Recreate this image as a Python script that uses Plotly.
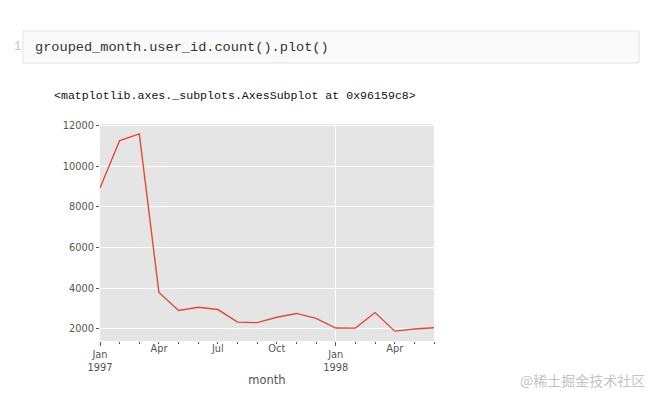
import plotly.graph_objects as go

months = ["1997-01", "1997-02", "1997-03", "1997-04", "1997-05", "1997-06",
          "1997-07", "1997-08", "1997-09", "1997-10", "1997-11", "1997-12",
          "1998-01", "1998-02", "1998-03", "1998-04", "1998-05", "1998-06"]
counts = [8928, 11272, 11598, 3781, 2895, 3054, 2942, 2320, 2296, 2562,
          2750, 2504, 2032, 2026, 2793, 1878, 1985, 2043]
major_ticks = ["Jan<br>1997", "Jan<br>1998"]
minor_labels = ["Apr", "Jul", "Oct", "Apr"]
y_ticks = [2000, 4000, 6000, 8000, 10000, 12000]

x_idx = list(range(len(months)))
major_pos = [i for i, m in enumerate(months) if m.endswith("-01")]
minor_pos = [i for i, m in enumerate(months) if m[-2:] in ("04", "07", "10")]

# page body has an 8px default margin; work in screen pixels and shift
OFF = 8
W, H = 658 - OFF, 401 - OFF
L, R, T, B = 100 - OFF, 434 - OFF, 124 - OFF, 341 - OFF


def px_x(x):
    return (x - OFF - L) / (R - L)


def px_y(y):
    return (B - (y - OFF)) / (B - T)


fig = go.Figure()
fig.add_trace(go.Scatter(x=x_idx, y=counts, mode="lines",
                         line=dict(color="#E24A33", width=1.4),
                         showlegend=False, hoverinfo="skip"))
fig.add_trace(go.Scatter(x=[0, 17], y=[None, None], xaxis="x2",
                         showlegend=False, hoverinfo="skip"))

tickfont = dict(family="DejaVu Sans", size=9.8, color="#555555")
fig.update_layout(
    width=W, height=H,
    margin=dict(l=L, r=W - R, t=T, b=H - B, pad=0),
    paper_bgcolor="white", plot_bgcolor="#E5E5E5",
    xaxis=dict(range=[0, len(months) - 1], tickmode="array",
               tickvals=major_pos, ticktext=major_ticks,
               showgrid=True, gridcolor="white", gridwidth=1,
               ticks="outside", ticklen=4, tickcolor="#555555", tickwidth=1,
               minor=dict(ticks="outside", ticklen=2, tickcolor="#555555",
                          tickwidth=1, dtick=1, tick0=0, showgrid=False),
               tickfont=tickfont, zeroline=False, showline=False,
               title=dict(text="month", font=dict(family="DejaVu Sans", size=11.5, color="#555555"),
                          standoff=4)),
    xaxis2=dict(range=[0, len(months) - 1], overlaying="x", side="bottom",
                tickmode="array", tickvals=minor_pos, ticktext=minor_labels,
                showgrid=False, ticks="", tickfont=tickfont, zeroline=False,
                showline=False, anchor="y"),
    yaxis=dict(range=[1392, 12084], tickmode="array", tickvals=y_ticks,
               ticktext=[str(v) for v in y_ticks],
               showgrid=True, gridcolor="white", gridwidth=1,
               ticks="outside", ticklen=3, tickcolor="#555555",
               tickfont=tickfont, zeroline=False, showline=False),
)

# code cell
fig.add_shape(type="rect", xref="paper", yref="paper",
              x0=px_x(23), x1=px_x(639), y0=px_y(63), y1=px_y(31),
              fillcolor="#FAFAFA", line=dict(color="#E3E3E3", width=1), layer="below")

fig.add_annotation(x=px_x(12), y=px_y(47), xref="paper", yref="paper",
                   text="1", showarrow=False, xanchor="left", yanchor="middle",
                   font=dict(family="Liberation Mono", size=12, color="#C4C4C4"))
fig.add_annotation(x=px_x(33), y=px_y(47), xref="paper", yref="paper",
                   text="grouped_month.user_id.count().plot()", showarrow=False,
                   xanchor="left", yanchor="middle",
                   font=dict(family="Liberation Mono", size=13.6, color="#333333"))
fig.add_annotation(x=px_x(52), y=px_y(96), xref="paper", yref="paper",
                   text="&lt;matplotlib.axes._subplots.AxesSubplot at 0x96159c8&gt;",
                   showarrow=False, xanchor="left", yanchor="middle",
                   font=dict(family="Liberation Mono", size=11.6, color="#111111"))
fig.add_annotation(x=px_x(647), y=px_y(380), xref="paper", yref="paper",
                   text="@稀土掘金技术社区", showarrow=False, xanchor="right", yanchor="middle",
                   font=dict(family="Noto Sans CJK SC", size=14, color="#C4C4C4"))

fig.write_html("out.html")
